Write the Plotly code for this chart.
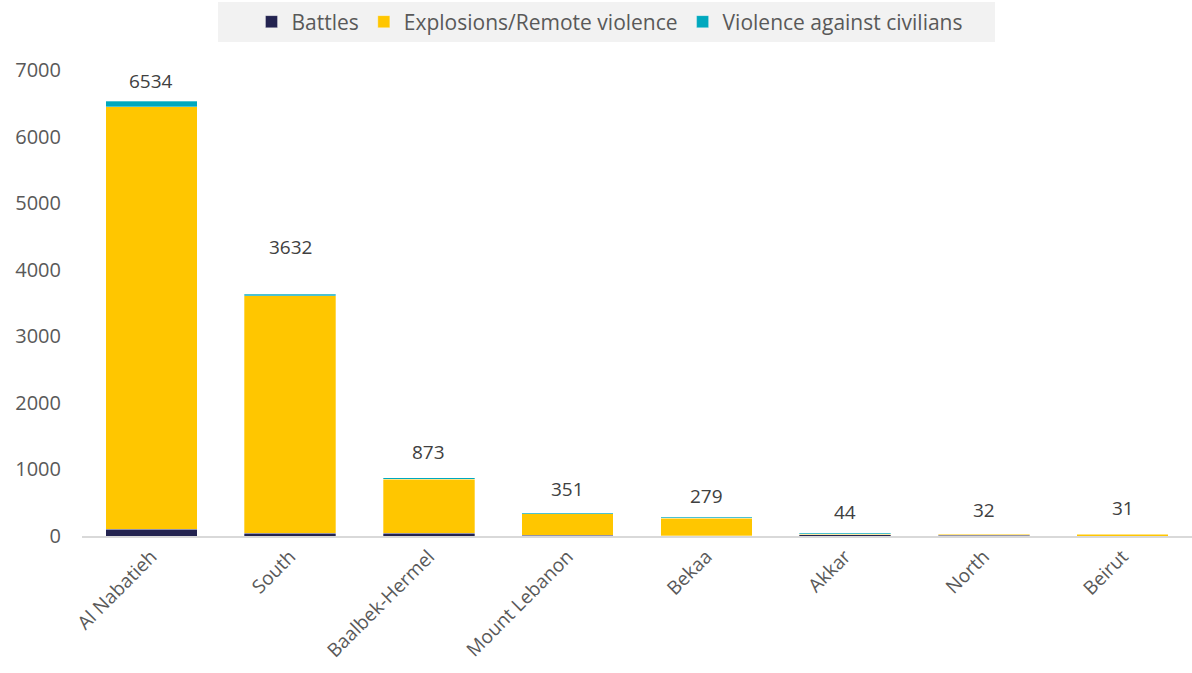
import plotly.graph_objects as go

regions = ["Al Nabatieh", "South", "Baalbek-Hermel", "Mount Lebanon", "Bekaa", "Akkar", "North", "Beirut"]
battles = [105, 45, 40, 15, 5, 20, 14, 0]
explosions = [6340, 3562, 813, 316, 264, 10, 16, 30]
civilians = [89, 25, 20, 20, 10, 14, 2, 1]
totals = [6534, 3632, 873, 351, 279, 44, 32, 31]
label_y = [6835, 4341, 1262, 706, 601, 360, 391, 421]

FONT = "Open Sans"
GREY = "#595959"

fig = go.Figure()
for name, vals, col in [("Battles", battles, "#232350"),
                        ("Explosions/Remote violence", explosions, "#FFC600"),
                        ("Violence against civilians", civilians, "#00A8BE")]:
    fig.add_trace(go.Bar(x=regions, y=vals, name=name, marker_color=col,
                         marker_line=dict(color="rgba(255,255,255,0.6)", width=0.5)))

for r, t, ly in zip(regions, totals, label_y):
    fig.add_annotation(x=r, y=ly, text=str(t), showarrow=False, yanchor="middle",
                       font=dict(family=FONT, size=19, color="#404040"))

fig.add_shape(type="rect", xref="paper", yref="paper",
              x0=(218 - 82) / 1110, x1=(995 - 82) / 1110,
              y0=1 + (70 - 42) / 466, y1=1 + (70 - 2) / 466,
              fillcolor="#F2F2F2", line_width=0, layer="below")

fig.update_layout(
    barmode="stack", bargap=0.34,
    width=1192, height=673,
    margin=dict(l=82, r=0, t=70, b=137),
    plot_bgcolor="white", paper_bgcolor="white",
    font=dict(family=FONT, size=19, color=GREY),
    legend=dict(orientation="h", x=(610 - 82) / 1110, xanchor="center",
                y=1 + (70 - 22) / 466, yanchor="middle",
                bgcolor="rgba(0,0,0,0)", font=dict(size=21, color=GREY),
                itemwidth=30, traceorder="normal"),
    showlegend=True,
)
fig.update_xaxes(tickangle=-45, showline=True, linecolor="#D9D9D9", linewidth=2,
                 tickfont=dict(size=19, color=GREY), ticks="", showgrid=False)
fig.update_yaxes(range=[0, 7000], dtick=1000, showgrid=False, zeroline=False,
                 showline=False, ticks="", tickfont=dict(size=20, color=GREY),
                 ticklabelstandoff=20)

fig.write_html("out.html")
